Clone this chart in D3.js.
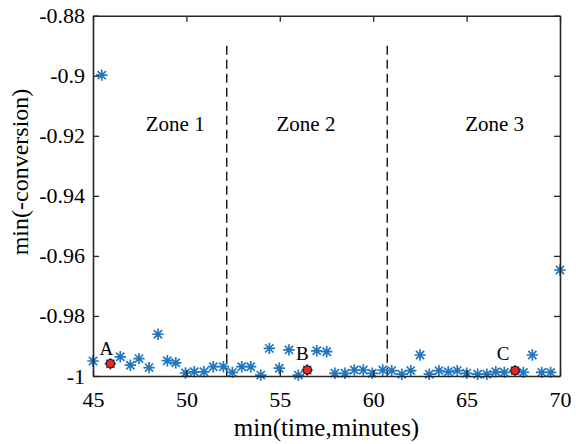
<!DOCTYPE html>
<html>
<head>
<meta charset="utf-8">
<script src="https://cdn.jsdelivr.net/npm/d3@7"></script>
<style>
  body { margin: 0; background: #fff; }
  svg { display: block; }
  svg text { font-family: 'Liberation Serif', 'Times New Roman', Times, 'DejaVu Serif', serif; }
</style>
</head>
<body>
<div id="chart"></div>
<script>
// Data
const timeVals = [45.0, 45.47, 45.93, 46.46, 47.0, 47.46, 48.0, 48.48, 48.98, 49.43,
  49.95, 50.42, 50.94, 51.44, 51.98, 52.46, 52.96, 53.44, 53.98, 54.44,
  54.97, 55.49, 55.99, 56.47, 56.98, 57.51, 57.95, 58.49, 58.99, 59.47,
  59.95, 60.51, 60.99, 61.53, 62.01, 62.51, 63.0, 63.52, 64.02, 64.5,
  65.0, 65.59, 66.08, 66.56, 67.02, 67.59, 68.04, 68.52, 69.02, 69.5, 70.0];
const convVals = [-0.995, -0.8998, -0.9959, -0.9936, -0.9964, -0.9942, -0.9972, -0.9861, -0.9949, -0.9956,
  -0.999, -0.9986, -0.9986, -0.9969, -0.9969, -0.9988, -0.9969, -0.9969, -0.9997, -0.9908,
  -0.9974, -0.9913, -0.9997, -0.998, -0.9916, -0.9919, -0.9991, -0.9991, -0.998, -0.998,
  -0.9991, -0.998, -0.9982, -0.9994, -0.9982, -0.993, -0.9994, -0.9982, -0.9986, -0.9982,
  -0.9991, -0.9994, -0.9994, -0.9986, -0.9988, -0.9982, -0.9988, -0.993, -0.9988, -0.9988, -0.9647];

// Highlighted points A, B, C
const pickNames = ['A', 'B', 'C'];
const pickTime = [45.93, 56.47, 67.59];
const pickConv = [-0.9959, -0.998, -0.9982];
const pickLabelTime = [45.71, 56.21, 66.96];
const pickLabelConv = [-0.993, -0.9947, -0.9947];

// Zone boundaries and labels
const zoneBounds = [52.16, 60.75];
const zoneTop = -0.89;
const zoneNames = ['Zone 1', 'Zone 2', 'Zone 3'];
const zoneLabelTime = [49.4, 56.4, 66.5];
const zoneLabelConv = -0.9185;

const xTicks = [45, 50, 55, 60, 65, 70];
const yTicks = [-1, -0.98, -0.96, -0.94, -0.92, -0.9, -0.88];

const width = 576;
const height = 444;
const margin = { left: 93, right: 16, top: 15.7, bottom: 68 };
const axisColor = '#262626';

const svg = d3.select('#chart').append('svg')
  .attr('width', width)
  .attr('height', height);

const x = d3.scaleLinear()
  .domain([45, 70])
  .range([margin.left, width - margin.right]);

const y = d3.scaleLinear()
  .domain([-1, -0.88])
  .range([height - margin.bottom, margin.top]);

// Zone dividers
svg.append('g')
  .selectAll('line')
  .data(zoneBounds)
  .join('line')
  .attr('x1', d => x(d))
  .attr('x2', d => x(d))
  .attr('y1', y(zoneTop))
  .attr('y2', y(-1))
  .attr('stroke', '#000')
  .attr('stroke-width', 1.3)
  .attr('stroke-dasharray', '9,5');

svg.append('g')
  .selectAll('text')
  .data(zoneNames)
  .join('text')
  .attr('x', (d, i) => x(zoneLabelTime[i]))
  .attr('y', y(zoneLabelConv))
  .attr('text-anchor', 'middle')
  .attr('font-size', 21)
  .attr('fill', '#000')
  .text(d => d);

// Asterisk markers
const r = 5.7;
const rd = r * 0.72;
const starPath = `M${-r},0H${r}M0,${-r}V${r}M${-rd},${-rd}L${rd},${rd}M${-rd},${rd}L${rd},${-rd}`;

svg.append('g')
  .selectAll('path')
  .data(timeVals)
  .join('path')
  .attr('transform', (d, i) => `translate(${x(d)},${y(convVals[i])})`)
  .attr('d', starPath)
  .attr('fill', 'none')
  .attr('stroke', '#1f77c0')
  .attr('stroke-width', 1.7);

// Highlighted points
svg.append('g')
  .selectAll('circle')
  .data(pickTime)
  .join('circle')
  .attr('cx', d => x(d))
  .attr('cy', (d, i) => y(pickConv[i]))
  .attr('r', 4.3)
  .attr('fill', '#e8281e')
  .attr('stroke', '#000')
  .attr('stroke-width', 1);

svg.append('g')
  .selectAll('text')
  .data(pickNames)
  .join('text')
  .attr('x', (d, i) => x(pickLabelTime[i]))
  .attr('y', (d, i) => y(pickLabelConv[i]))
  .attr('text-anchor', 'middle')
  .attr('font-size', 19)
  .attr('fill', '#000')
  .text(d => d);

// Axes (box with inward ticks)
const tickLen = 6;
const styleAxis = g => {
  g.attr('font-family', null);
  g.select('.domain').attr('stroke', axisColor).attr('stroke-width', 1.6);
  g.selectAll('.tick line').attr('stroke', axisColor).attr('stroke-width', 1.3);
  g.selectAll('.tick text').attr('fill', '#000').attr('font-size', 22);
};

svg.append('g')
  .attr('transform', `translate(0,${y(-1)})`)
  .call(d3.axisBottom(x).tickValues(xTicks).tickSizeInner(-tickLen).tickSizeOuter(0).tickPadding(15))
  .call(styleAxis);

svg.append('g')
  .attr('transform', `translate(0,${y(-0.88)})`)
  .call(d3.axisTop(x).tickValues(xTicks).tickSizeInner(-tickLen).tickSizeOuter(0).tickFormat(''))
  .call(styleAxis);

svg.append('g')
  .attr('transform', `translate(${x(45)},0)`)
  .call(d3.axisLeft(y).tickValues(yTicks).tickSizeInner(-tickLen).tickSizeOuter(0).tickPadding(8)
    .tickFormat(d => String(d)))
  .call(styleAxis);

svg.append('g')
  .attr('transform', `translate(${x(70)},0)`)
  .call(d3.axisRight(y).tickValues(yTicks).tickSizeInner(-tickLen).tickSizeOuter(0).tickFormat(''))
  .call(styleAxis);

// Axis titles
svg.append('text')
  .attr('x', (x(45) + x(70)) / 2)
  .attr('y', 436)
  .attr('text-anchor', 'middle')
  .attr('font-size', 25)
  .attr('fill', '#000')
  .text('min(time,minutes)');

svg.append('text')
  .attr('transform', `translate(28,${172}) rotate(-90)`)
  .attr('text-anchor', 'middle')
  .attr('font-size', 24)
  .attr('fill', '#000')
  .text('min(-conversion)');
</script>
</body>
</html>
